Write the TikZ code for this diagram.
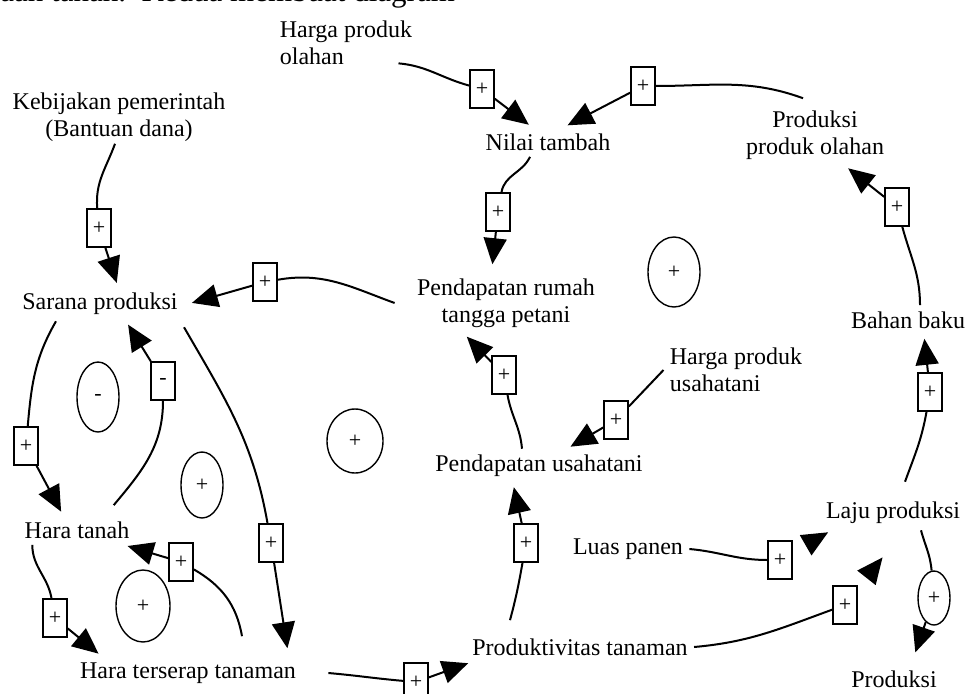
\documentclass[tikz,border=0pt]{standalone}
\usepackage{fontspec}
\setmainfont{Liberation Serif}
\usetikzlibrary{arrows.meta,positioning,calc,shapes.geometric}

\begin{document}
\begin{tikzpicture}[x=0.5pt,y=0.5pt,
  varnode/.style={inner sep=3pt,font=\fontsize{12}{13.5}\selectfont,align=center},
  pol/.style={draw,line width=0.8pt,minimum width=12pt,minimum height=19pt,inner sep=0pt,font=\fontsize{11}{11}\selectfont},
  loopmark/.style={draw,ellipse,line width=0.7pt,inner sep=0pt,font=\fontsize{11}{11}\selectfont},
  link/.style={line width=1pt,-{Triangle[length=13pt,width=11.5pt]},shorten >=2pt}]

\useasboundingbox (0,0) rectangle (968,693);
\fill[white] (0,0) rectangle (968,693);

% text cut at the top of the page
\node[anchor=base west,inner sep=0pt,font=\fontsize{15.5}{18}\selectfont] (intro) at (0,691) {aan tanah.\ \ Kedua membuat diagram};

% variables
\node[varnode,align=left] (hpo) at (346,650) {Harga produk\\olahan};
\node[varnode] (keb) at (119,576) {Kebijakan pemerintah\\(Bantuan dana)};
\node[varnode] (nt) at (548,551) {Nilai tambah};
\node[varnode] (ppo) at (815,558) {Produksi\\produk olahan};
\node[varnode] (sp) at (100,389) {Sarana produksi};
\node[varnode] (prt) at (506,390) {Pendapatan rumah\\tangga petani};
\node[varnode,align=left] (hpu) at (736,323) {Harga produk\\usahatani};
\node[varnode] (bb) at (908,373) {Bahan baku};
\node[varnode] (pu) at (539,227) {Pendapatan usahatani};
\node[varnode] (ht) at (77,163) {Hara tanah};
\node[varnode] (lp) at (893,180) {Laju produksi};
\node[varnode] (lpn) at (628,144) {Luas panen};
\node[varnode] (hts) at (188,20) {Hara terserap tanaman};
\node[varnode] (pt) at (580,46) {Produktivitas tanaman};
\node[varnode] (prod) at (894,14) {Produksi};

% link signs
\node[pol] (b1) at (482,604) {+};
\node[pol] (b2) at (643,607) {+};
\node[pol] (b3) at (498,481) {+};
\node[pol] (b4) at (99,465) {+};
\node[pol] (b5) at (265,411) {+};
\node[pol] (b6) at (504,318) {+};
\node[pol] (b7) at (616,273) {+};
\node[pol] (b8) at (526,150) {+};
\node[pol] (b9) at (780,133) {+};
\node[pol] (b10) at (845,88) {+};
\node[loopmark,minimum width=16pt,minimum height=27pt] (b11) at (934,95) {+};
\node[pol] (b12) at (930,301) {+};
\node[pol] (b13) at (897,486) {+};
\node[pol] (b14) at (416,11) {+};
\node[pol] (b15) at (26,247) {+};
\node[pol] (b16) at (163,312) {-};
\node[pol] (b17) at (271,150) {+};
\node[pol] (b18) at (181,131) {+};
\node[pol] (b19) at (55,75) {+};

% loop signs
\node[loopmark,minimum width=21pt,minimum height=35pt] (l1) at (98,296) {-};
\node[loopmark,minimum width=21pt,minimum height=33pt] (l2) at (202,208) {+};
\node[loopmark,minimum width=27pt,minimum height=36pt] (l3) at (143,87) {+};
\node[loopmark,minimum width=28pt,minimum height=32pt] (l4) at (355,252) {+};
\node[loopmark,minimum width=26pt,minimum height=35pt] (l5) at (674,421) {+};

% Nilai tambah
\draw[link] ([shift={(-10pt,4pt)}]hpo.south east) to[out=-5,in=165] (b1) -- ([xshift=-8pt]nt.north);
\draw[link] ([shift={(-6pt,3pt)}]ppo.north) to[out=160,in=0] (b2) -- ([xshift=8pt]nt.north);
\draw[link] ([xshift=-9pt]nt.south) to[out=-115,in=80] (b3) -- ([shift={(-7pt,2pt)}]prt.north);

% Sarana produksi
\draw[link] ([shift={(-2pt,2pt)}]keb.south) to[out=-110,in=95] (b4) -- ([xshift=9pt]sp.north);
\draw[link] ([xshift=-8pt]prt.west) to[out=160,in=10] (b5) -- ([xshift=2pt]sp.east);

% pendapatan
\draw[link] ([xshift=-8.5pt]pu.north) to[out=95,in=-80] (b6) -- ([xshift=-21pt]prt.south);
\draw[link] (hpu.west) -- (b7) -- ([xshift=14pt]pu.north);
\draw[link] ([shift={(-35pt,6pt)}]pt.north) to[out=75,in=-100] (b8) -- ([xshift=-13pt]pu.south);

% Laju produksi
\draw[link,shorten <=10pt] (lpn.east) to[out=-5,in=180] (b9) -- ([xshift=6pt]lp.south west);
\draw[link,shorten <=12pt] (pt.east) to[out=5,in=200] (b10) -- ([shift={(-4pt,-12pt)}]lp.south);
\draw[link] ([xshift=14pt]lp.south) to[out=-75,in=95] (b11) -- ([shift={(10pt,4pt)}]prod.north);

% Bahan baku
\draw[link] ([shift={(6pt,7pt)}]lp.north) to[out=70,in=-100] (b12) -- ([xshift=8pt]bb.south);
\draw[link] ([xshift=6pt]bb.north) to[out=90,in=-75] (b13) -- ([xshift=15pt]ppo.south);

% Hara tanah
\draw[link] ([xshift=13pt]hts.east) to[out=-5,in=175] (b14) -- ([xshift=3pt]pt.south west);
\draw[link] ([xshift=-22pt]sp.south) to[out=-120,in=85] (b15) -- ([xshift=-7pt]ht.north);
\draw[link] ([shift={(-11pt,5pt)}]ht.north east) to[out=50,in=-90] (b16) -- ([xshift=13pt]sp.south);
\draw[link] ([yshift=-3pt]sp.south east) to[out=-60,in=100] (b17) -- ([shift={(50pt,2pt)}]hts.north);
\draw[link] ([shift={(27pt,10pt)}]hts.north) to[out=100,in=-30] (b18) -- ([xshift=-6pt]ht.south east);
\draw[link] ([xshift=7pt]ht.south west) to[out=-90,in=100] (b19) -- ([xshift=14pt]hts.north west);
\end{tikzpicture}
\end{document}
